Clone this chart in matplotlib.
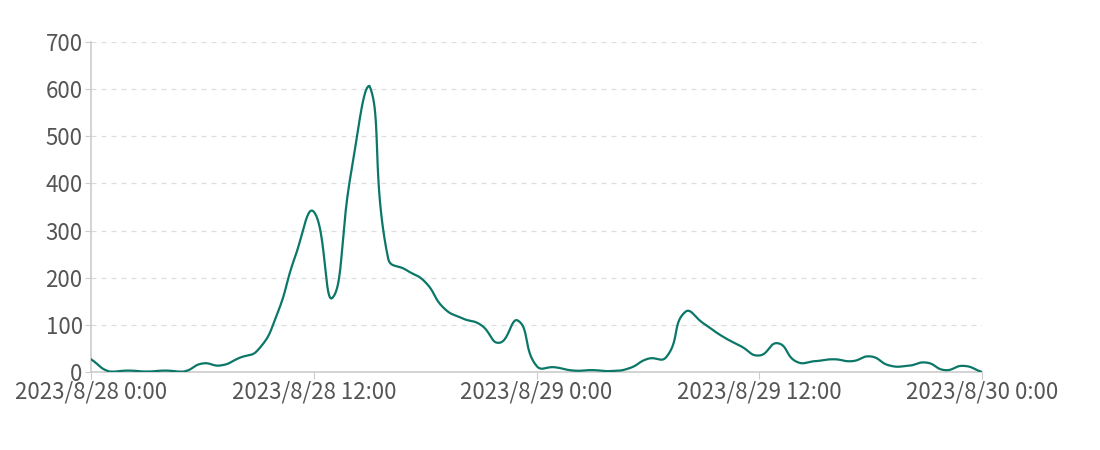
import numpy as np
import matplotlib
matplotlib.use("Agg")
import matplotlib.pyplot as plt

plt.rcParams['font.family'] = ['Noto Sans CJK SC', 'DejaVu Sans']

hours = list(range(49))
values = [27, 1, 3, 1, 3, 1, 18, 14, 30, 47, 120, 245, 340, 157, 420, 607, 242, 216,
          191, 136, 114, 100, 62, 109, 13, 10, 3, 4, 2, 8, 28, 32, 127, 103, 76, 55,
          35, 61, 22, 23, 27, 23, 33, 14, 13, 20, 4, 13, 0]
tick_hours = [0, 12, 24, 36, 48]
tick_labels = ["2023/8/28 0:00", "2023/8/28 12:00", "2023/8/29 0:00",
               "2023/8/29 12:00", "2023/8/30 0:00"]
y_ticks = [0, 100, 200, 300, 400, 500, 600, 700]

fig = plt.figure(figsize=(11, 4.5), dpi=100)
ax = fig.add_axes([91 / 1100, 78 / 450, 891 / 1100, 330 / 450])
ax.set_xlim(0, 48)
ax.set_ylim(0, 700)


def smooth_line(xd, yd, smooth=0.5, n=24):
    """Distance-weighted bezier smoothing in pixel space, clamped to the global box."""
    pts = ax.transData.transform(np.column_stack([xd, yd]))
    lo = pts.min(axis=0)
    hi = pts.max(axis=0)
    m = len(pts)
    cp0 = pts.copy()
    cp1 = pts.copy()
    for i in range(m):
        p = pts[i]
        prv = pts[i - 1] if i > 0 else p
        nxt = pts[i + 1] if i < m - 1 else p
        v = (nxt - prv) * smooth
        d0 = np.hypot(*(p - prv))
        d1 = np.hypot(*(p - nxt))
        s = d0 + d1
        if s > 0:
            d0, d1 = d0 / s, d1 / s
        cp0[i] = np.clip(p - v * d0, lo, hi)
        cp1[i] = np.clip(p + v * d1, lo, hi)
    t = np.linspace(0, 1, n, endpoint=False)[:, None]
    segs = []
    for i in range(m - 1):
        a, b, c, d = pts[i], cp1[i], cp0[i + 1], pts[i + 1]
        segs.append((1 - t) ** 3 * a + 3 * (1 - t) ** 2 * t * b + 3 * (1 - t) * t ** 2 * c + t ** 3 * d)
    segs.append(pts[-1:])
    out = np.vstack(segs)
    data = ax.transData.inverted().transform(out)
    return data[:, 0], data[:, 1]


sx, sy = smooth_line(hours, values)
ax.plot(sx, sy, color='#0b7768', lw=1.6, zorder=3)

ax.set_xticks(tick_hours)
ax.set_xticklabels(tick_labels)
ax.set_yticks(y_ticks)
ax.yaxis.grid(True, color='#dddddd', linestyle=(0, (4, 4)), lw=0.9)
ax.set_axisbelow(True)
for s in ['top', 'right']:
    ax.spines[s].set_visible(False)
for s in ['left', 'bottom']:
    ax.spines[s].set_color('#cccccc')
    ax.spines[s].set_linewidth(1.2)
ax.tick_params(axis='x', colors='#cccccc', labelcolor='#555555', labelsize=16, length=5, pad=1)
ax.tick_params(axis='y', colors='#cccccc', labelcolor='#555555', labelsize=16, length=4, pad=2)

fig.savefig('out.png', dpi=100)
